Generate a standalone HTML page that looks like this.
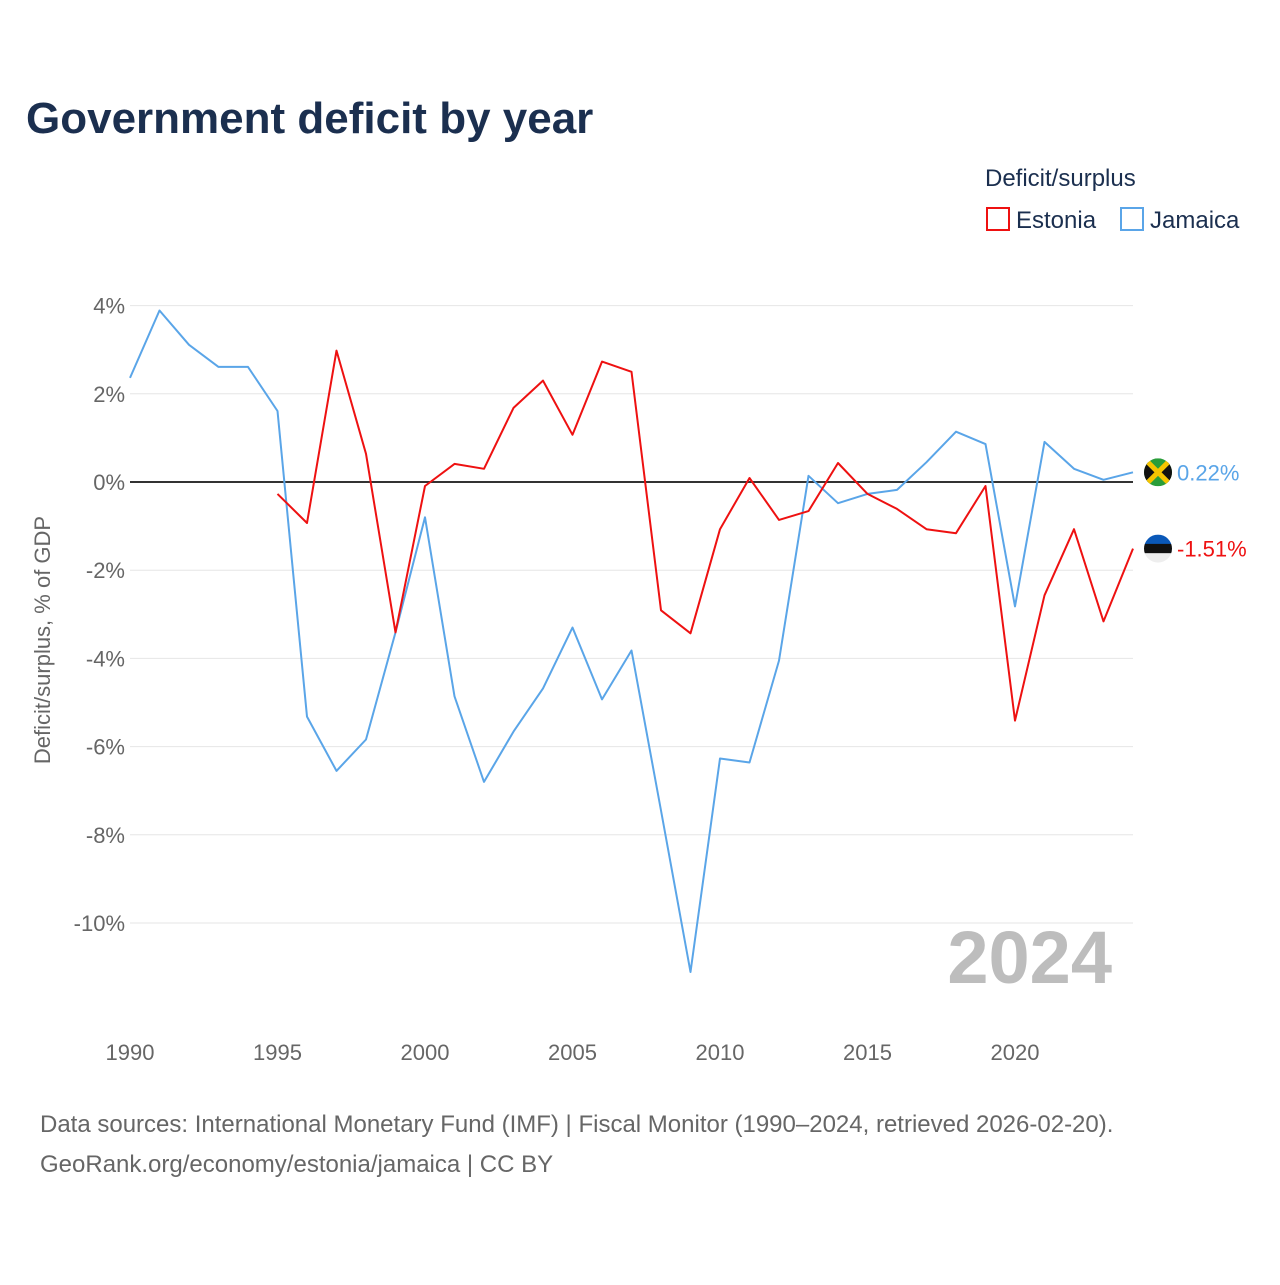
<!DOCTYPE html>
<html><head><meta charset="utf-8"><style>
body{margin:0;background:#fff;font-family:"Liberation Sans",sans-serif}
</style></head><body>
<svg width="1280" height="1280" viewBox="0 0 1280 1280" id="svg">
<text x="26" y="133" font-size="44" font-weight="bold" fill="#1b2f4f">Government deficit by year</text>
<text x="985" y="186" font-size="24" fill="#1b2f4f">Deficit/surplus</text>
<g><rect x="987" y="208" width="22" height="22" fill="none" stroke="#ee1111" stroke-width="2"/><text x="1016" y="228" font-size="24" fill="#1b2f4f">Estonia</text></g>
<g><rect x="1121" y="208" width="22" height="22" fill="none" stroke="#5aa5e8" stroke-width="2"/><text x="1150" y="228" font-size="24" fill="#1b2f4f">Jamaica</text></g>
<text transform="translate(50,640) rotate(-90)" text-anchor="middle" font-size="22" fill="#666">Deficit/surplus, % of GDP</text>
<g id="grid"></g><g id="xt"></g>
<text x="1112" y="983" text-anchor="end" font-size="74" font-weight="bold" fill="#bdbdbd">2024</text>
<g id="lines"></g>
<text x="40" y="1132" font-size="24" fill="#666">Data sources: International Monetary Fund (IMF) | Fiscal Monitor (1990–2024, retrieved 2026-02-20).</text>
<text x="40" y="1172" font-size="24" fill="#666">GeoRank.org/economy/estonia/jamaica | CC BY</text>
</svg>
<script>
const years=[];for(let y=1990;y<=2024;y++)years.push(y);
const jamaica=[2.36,3.89,3.11,2.61,2.61,1.61,-5.32,-6.55,-5.84,-3.41,-0.80,-4.86,-6.80,-5.66,-4.68,-3.30,-4.93,-3.82,-7.45,-11.11,-6.27,-6.36,-4.05,0.14,-0.48,-0.27,-0.18,0.45,1.14,0.86,-2.82,0.91,0.30,0.05,0.22];
const estonia=[null,null,null,null,null,-0.27,-0.93,2.98,0.64,-3.41,-0.09,0.41,0.30,1.68,2.30,1.07,2.73,2.50,-2.91,-3.43,-1.07,0.09,-0.86,-0.66,0.43,-0.27,-0.61,-1.07,-1.16,-0.09,-5.41,-2.57,-1.07,-3.16,-1.51];
const yTicks=[4,2,0,-2,-4,-6,-8,-10];
const xTicks=[1990,1995,2000,2005,2010,2015,2020];
const NS="http://www.w3.org/2000/svg";
const X=y=>130+(y-1990)*(1003/34);
const Y=v=>482-v*44.1;
function mk(t,a,p){const e=document.createElementNS(NS,t);for(const k in a)e.setAttribute(k,a[k]);p.appendChild(e);return e;}
const grid=document.getElementById('grid');
yTicks.forEach(v=>{
 const l=mk('line',{x1:130,x2:1133,y1:Y(v),y2:Y(v),stroke:v===0?'#333':'#e6e6e6','stroke-width':v===0?2:1},grid);
 
 
 const t=mk('text',{x:125,y:Y(v)+8,'text-anchor':'end','font-size':22,fill:'#666'},grid);
 t.textContent=v+'%';
 
 
});
const xt=document.getElementById('xt');
xTicks.forEach(v=>{
 const t=mk('text',{x:X(v),y:1060,'text-anchor':'middle','font-size':22,fill:'#666'},xt);
 t.textContent=v;
 
 
});
const lines=document.getElementById('lines');
function series(vals,color,name){
 let d='';vals.forEach((v,i)=>{if(v===null)return;d+=(d?'L':'M')+X(years[i]).toFixed(1)+','+Y(v).toFixed(1);});
 const p=mk('path',{d:d,fill:'none',stroke:color,'stroke-width':2,'stroke-linejoin':'round'},lines);
 
 
 const last=vals[vals.length-1];
 const t=mk('text',{x:1177,y:Y(last)+8,'font-size':22,fill:color},lines);
 t.textContent=last.toFixed(2)+'%';
 
 
 return Y(last);
}
const yj=series(jamaica,'#5aa5e8','jamaica');
const ye=series(estonia,'#ee1111','estonia');
const fj=mk('g',{},lines);


mk('clipPath',{id:'cj'},fj).appendChild(document.createElementNS(NS,'circle'));
const cj=fj.querySelector('circle');cj.setAttribute('cx',1158);cj.setAttribute('cy',yj);cj.setAttribute('r',14);
const gj=mk('g',{'clip-path':'url(#cj)'},fj);
mk('rect',{x:1144,y:yj-14,width:28,height:28,fill:'#2a9d3a'},gj);
mk('path',{d:`M1144,${yj-14}L1158,${yj}L1144,${yj+14}ZM1172,${yj-14}L1158,${yj}L1172,${yj+14}Z`,fill:'#111'},gj);
mk('path',{d:`M1144,${yj-14}L1172,${yj+14}M1172,${yj-14}L1144,${yj+14}`,stroke:'#f5c400','stroke-width':5},gj);
const fe=mk('g',{},lines);


mk('clipPath',{id:'ce'},fe).appendChild(document.createElementNS(NS,'circle'));
const ce=fe.querySelector('circle');ce.setAttribute('cx',1158);ce.setAttribute('cy',ye);ce.setAttribute('r',14);
const ge=mk('g',{'clip-path':'url(#ce)'},fe);
mk('rect',{x:1144,y:ye-14,width:28,height:10,fill:'#0a58b8'},ge);
mk('rect',{x:1144,y:ye-4.7,width:28,height:9.4,fill:'#111'},ge);
mk('rect',{x:1144,y:ye+4.7,width:28,height:10,fill:'#eee'},ge);
</script>
</body></html>
